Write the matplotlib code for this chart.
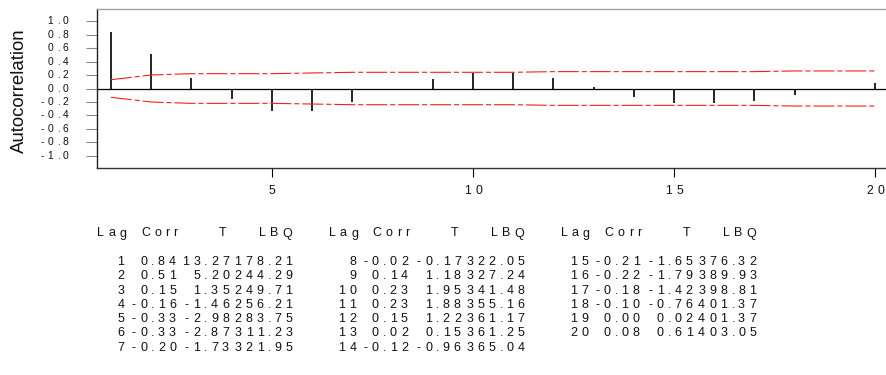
import numpy as np
import matplotlib
matplotlib.use('Agg')
import matplotlib.pyplot as plt
from matplotlib.transforms import offset_copy

# 자료: 자기상관 함수 (lag 1..20)
lags = list(range(1, 21))
corr = [0.84, 0.51, 0.15, -0.16, -0.33, -0.33, -0.20, -0.02, 0.14, 0.23,
        0.23, 0.15, 0.02, -0.12, -0.21, -0.22, -0.18, -0.10, 0.00, 0.08]
tval = [13.27, 5.20, 1.35, -1.46, -2.98, -2.87, -1.73, -0.17, 1.18, 1.95,
        1.88, 1.22, 0.15, -0.96, -1.65, -1.79, -1.42, -0.76, 0.02, 0.61]
lbq = [178.21, 244.29, 249.71, 256.21, 283.75, 311.23, 321.95, 322.05, 327.24, 341.48,
       355.16, 361.17, 361.25, 365.04, 376.32, 389.93, 398.81, 401.37, 401.37, 403.05]
# 신뢰한계
limit = [0.13, 0.20, 0.22, 0.22, 0.22, 0.23, 0.24, 0.24, 0.24, 0.24,
         0.24, 0.25, 0.25, 0.25, 0.25, 0.25, 0.25, 0.26, 0.26, 0.26]
yticks = [-1.0, -0.8, -0.6, -0.4, -0.2, 0.0, 0.2, 0.4, 0.6, 0.8, 1.0]
xticks = [5, 10, 15, 20]

W, H, DPI = 886, 375, 100
FONT = 'Liberation Sans'
plt.rcParams['font.family'] = FONT
plt.rcParams['lines.scale_dashes'] = False

fig = plt.figure(figsize=(W / DPI, H / DPI), dpi=DPI)
ax = fig.add_axes([97 / W, 1 - 168 / H, (886 - 97) / W, (168 - 9) / H])

# 글자 폭 (em)
ADV = {c: 0.556 for c in '0123456789'}
ADV.update({'.': 0.2, '-': 0.333, 'L': 0.556, 'a': 0.556, 'g': 0.556,
            'C': 0.722, 'o': 0.556, 'r': 0.333, 'T': 0.611, 'B': 0.667, 'Q': 0.778})


def spaced(x, y, s, trans, size_px, track, ha='left', dx=0, dy=0, dash=0.333):
    # 자간이 넓은 글자를 한 글자씩 그리기 ('-' 칸 폭은 dash)
    cells = [(dash if c == '-' else ADV[c]) * size_px + track for c in s]
    total = sum(cells) - track
    pos = {'left': 0, 'right': -total, 'center': -total / 2}[ha] + dx
    for c, a in zip(s, cells):
        shift = (dash - ADV['-']) * size_px if c == '-' else 0
        t = offset_copy(trans, fig=fig, x=pos + shift, y=dy, units='dots')
        fig.text(x, y, c, transform=t, fontsize=size_px * 72 / DPI,
                 ha='left', va='center', family=FONT, color='#111111')
        pos += a


# 막대와 신뢰한계
ax.vlines(lags, 0, corr, color='black', lw=1.2)
ax.axhline(0, color='black', lw=0.9)
up = np.array(limit)
ax.plot(lags, up, color='#ff1a1a', lw=0.8, linestyle=(0, (15, 2.2, 3.6, 2.2)))
ax.plot(lags, -up, color='#ff1a1a', lw=0.8, linestyle=(0, (15, 2.2, 3.6, 2.2)))

ax.set_xlim(0.652, 20.27)
ax.set_ylim(-1.178, 1.178)
ax.set_xticks(xticks)
ax.set_yticks(yticks)
ax.tick_params(axis='y', direction='out', length=7.9, width=0.8, color='#888888',
               labelleft=False)
ax.tick_params(axis='x', direction='out', length=6.5, width=0.8, color='black',
               labelbottom=False)
ax.spines['right'].set_visible(False)
ax.spines['top'].set_color('#a0a0a0')
ax.spines['top'].set_linewidth(1.0)
ax.spines['left'].set_color('#222222')
ax.spines['left'].set_linewidth(1.0)
ax.spines['bottom'].set_color('#333333')
ax.spines['bottom'].set_linewidth(1.0)

# 눈금 글자
for v in yticks:
    spaced(0, v, f'{v:.1f}', ax.get_yaxis_transform(), 10.3, 3.6, ha='right', dx=-28.7,
           dash=0.2)
for v in xticks:
    spaced(v, 0, str(v), ax.get_xaxis_transform(), 12.3, 4.2, ha='center', dy=-22.7)

fig.text(19 / W, 1 - 90.5 / H, 'Autocorrelation', rotation=90, ha='center', va='center',
         fontsize=13.4, family=FONT, color='#111111')

# 표
ftr = fig.transFigure
FS, TR = 12.5, 4.15
row_y0, row_dy, head_y = 262, 14.3, 233.5
for b in range(3):
    off = 231.8 * b
    spaced((97 + off) / W, 1 - head_y / H, 'Lag', ftr, FS, TR)
    spaced((141 + off) / W, 1 - head_y / H, 'Corr', ftr, FS, TR)
    spaced((226.5 + off) / W, 1 - head_y / H, 'T', ftr, FS, TR, ha='right')
    spaced((292.5 + off) / W, 1 - head_y / H, 'LBQ', ftr, FS, TR, ha='right')
    for r in range(7):
        i = b * 7 + r
        if i >= len(lags):
            break
        yy = 1 - (row_y0 + row_dy * r) / H
        spaced((124.5 + off) / W, yy, str(lags[i]), ftr, FS, TR, ha='right')
        spaced((176 + off) / W, yy, f'{corr[i]:.2f}', ftr, FS, TR, ha='right', dash=0.6)
        spaced((229 + off) / W, yy, f'{tval[i]:.2f}', ftr, FS, TR, ha='right', dash=0.6)
        spaced((292.5 + off) / W, yy, f'{lbq[i]:.2f}', ftr, FS, TR, ha='right')

fig.savefig('out.png', dpi=DPI)
